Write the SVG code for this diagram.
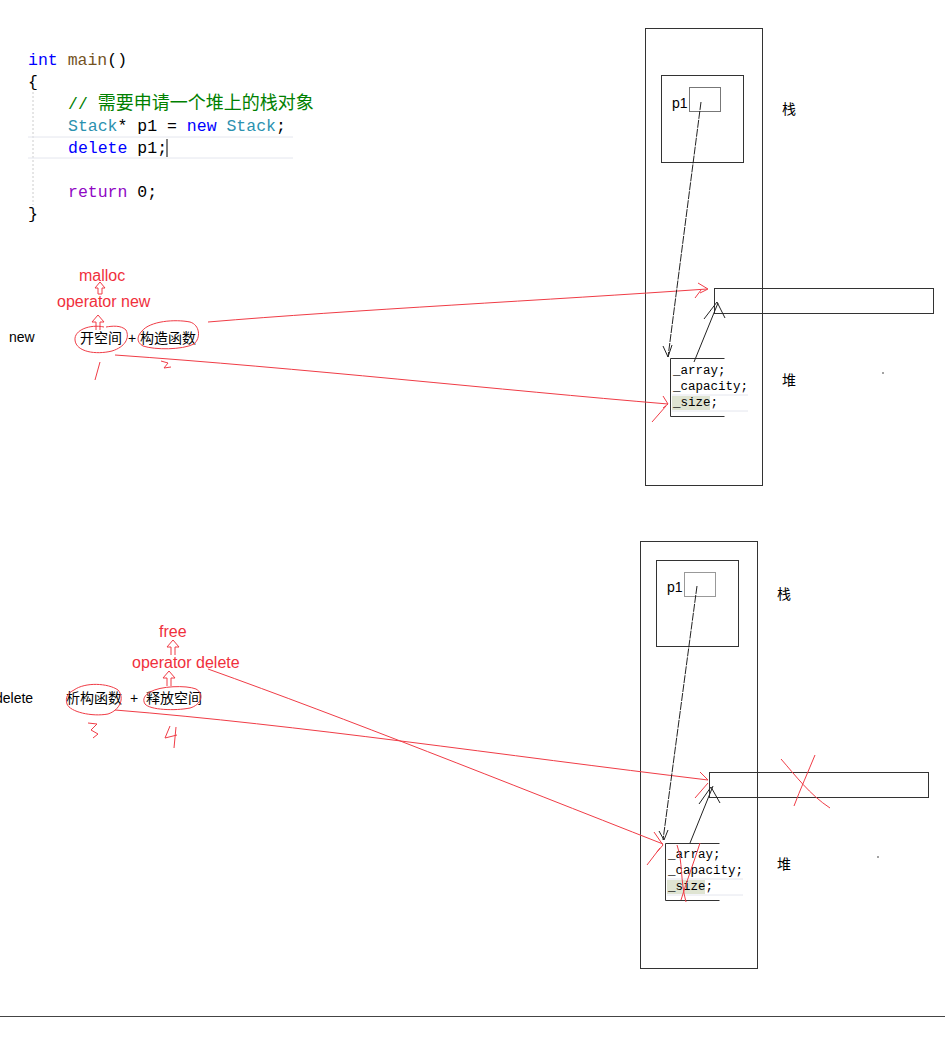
<svg xmlns="http://www.w3.org/2000/svg" width="945" height="1038" viewBox="0 0 945 1038">
<style>
.code{font-family:"Liberation Mono","DejaVu Sans Mono",monospace;font-size:16.5px}
.mem{font-family:"Liberation Mono","DejaVu Sans Mono",monospace;font-size:12.5px;fill:#000}
.lbl{font-family:"Liberation Sans","Noto Sans CJK SC",sans-serif;font-size:14px;fill:#000}
.red{font-family:"Liberation Sans","Noto Sans CJK SC",sans-serif;font-size:16px;fill:#f0303c}
.box{fill:none;stroke:#333;stroke-width:1}
.rl{fill:none;stroke:#f03c46;stroke-width:1}
.bl{fill:none;stroke:#222;stroke-width:1}
.ha{fill:none;stroke:#f03c46;stroke-width:1}
</style>
<rect width="945" height="1038" fill="#fff"/>

<g id="code">
<line x1="33" y1="92" x2="33" y2="205" stroke="#ccc" stroke-dasharray="2,2"/>
<line x1="28" y1="137" x2="293" y2="137" stroke="#e4e6ee"/>
<line x1="28" y1="158" x2="293" y2="158" stroke="#e4e6ee"/>
<text class="code" x="28" y="65"><tspan fill="#0000ff">int</tspan> <tspan fill="#74531f">main</tspan><tspan fill="#000">()</tspan></text>
<text class="code" x="28" y="87" fill="#000">{</text>
<text class="code" x="68" y="109" fill="#008000">// <tspan font-family="'Noto Sans CJK SC',sans-serif" font-size="18">需要申请一个堆上的栈对象</tspan></text>
<text class="code" x="68" y="131"><tspan fill="#2b91af">Stack</tspan><tspan fill="#000">* p1 = </tspan><tspan fill="#0000ff">new</tspan> <tspan fill="#2b91af">Stack</tspan><tspan fill="#000">;</tspan></text>
<text class="code" x="68" y="153"><tspan fill="#0000ff">delete</tspan><tspan fill="#000"> p1;</tspan></text>
<line x1="167" y1="139" x2="167" y2="157" stroke="#000"/>
<text class="code" x="68" y="197"><tspan fill="#8f08c4">return</tspan><tspan fill="#000"> 0;</tspan></text>
<text class="code" x="28" y="219" fill="#000">}</text>
</g>

<g id="top-memory">
<rect class="box" x="645.5" y="28.5" width="117" height="457"/>
<rect class="box" x="661.5" y="75.5" width="82" height="87"/>
<text class="lbl" x="672" y="108">p1</text>
<rect x="689.5" y="87.5" width="31" height="24" fill="none" stroke="#777"/>
<text class="lbl" x="782" y="114">栈</text>
<rect class="box" x="714.5" y="288.5" width="219" height="25"/>
<path d="M670.5 416.5 V358.5 H724.5 M670.5 416.5 H724.5" class="box" stroke="#555"/>
<line x1="672" y1="395" x2="748" y2="395" stroke="#e4e6ee"/>
<line x1="672" y1="411" x2="748" y2="411" stroke="#e4e6ee"/>
<rect x="672" y="396" width="38" height="14" fill="#dfe4d2"/>
<text class="mem" x="673" y="374">_array;</text>
<text class="mem" x="673" y="390">_capacity;</text>
<text class="mem" x="673" y="406">_size;</text>
<text class="lbl" x="782" y="385">堆</text>
<circle cx="883" cy="373" r="0.7" fill="#000"/>
</g>

<g id="bottom-memory">
<rect class="box" x="640.5" y="541.5" width="117" height="427"/>
<rect class="box" x="656.5" y="560.5" width="82" height="86"/>
<text class="lbl" x="667" y="592">p1</text>
<rect x="684.5" y="572.5" width="31" height="24" fill="none" stroke="#999"/>
<text class="lbl" x="777" y="599">栈</text>
<rect class="box" x="709.5" y="772.5" width="219" height="25" stroke="#666"/>
<path d="M665.5 900.5 V843.5 H719.5 M665.5 900.5 H719.5" class="box" stroke="#555"/>
<line x1="667" y1="879" x2="743" y2="879" stroke="#e4e6ee"/>
<line x1="667" y1="895" x2="743" y2="895" stroke="#e4e6ee"/>
<rect x="667" y="880" width="38" height="14" fill="#dfe4d2"/>
<text class="mem" x="668" y="858">_array;</text>
<text class="mem" x="668" y="874">_capacity;</text>
<text class="mem" x="668" y="890">_size;</text>
<text class="lbl" x="777" y="869">堆</text>
<circle cx="878" cy="857" r="0.7" fill="#000"/>
</g>

<g id="left-top">
<text class="lbl" x="9" y="342">new</text>
<text class="lbl" x="80" y="343">开空间</text>
<text class="lbl" x="128" y="343">+</text>
<text class="lbl" x="140" y="343">构造函数</text>
<text class="red" x="79" y="281">malloc</text>
<text class="red" x="57" y="307">operator new</text>
<path class="ha" d="M98 294 V288 H95 L100 282 L105 288 H102 V294 Z"/>
<path class="ha" d="M96 330 V322 H92 L98 315 L104 322 H100 V330"/>
<path class="rl" d="M104 327 C90 324 74 330 75 340 C76 352 96 355 112 351 C125 347 130 338 126 330 C121 325 112 326 106 327"/>
<path class="rl" d="M142 331 C150 321 175 319 190 322 C200 325 201 338 194 344 C182 350 155 350 143 346 C136 342 137 336 142 331"/>
<path class="rl" d="M100 362 L95 380"/>
<path class="rl" d="M161 361 L168 363 L164 368 L171 367"/>
</g>

<g id="left-bottom">
<text class="lbl" x="-5" y="703">delete</text>
<text class="lbl" x="66" y="703">析构函数</text>
<text class="lbl" x="130" y="703">+</text>
<text class="lbl" x="146" y="703">释放空间</text>
<text class="red" x="159" y="637">free</text>
<text class="red" x="132" y="668">operator delete</text>
<path class="ha" d="M171 655 V647 H167 L173 640 L179 647 H175 V655"/>
<path class="ha" d="M167 686 V678 H163 L169 671 L175 678 H171 V686"/>
<path class="rl" d="M74 690 C85 682 108 683 118 690 C125 698 120 710 108 714 C92 717 70 712 67 704 C65 697 68 693 74 690"/>
<path class="rl" d="M150 692 C160 686 186 685 196 689 C205 694 201 705 190 708 C175 711 150 710 145 704 C142 699 145 695 150 692"/>
<path class="rl" d="M88 723 L97 724 L91 730 L98 734 L93 738"/>
<path class="rl" d="M170 726 L165 738 L177 735 M176 727 L174 748"/>
</g>

<g id="connectors">
<path class="rl" d="M208 322 C350 310 550 300 707 289"/>
<path class="rl" d="M698 283 L708 289 L700 293 M695 298 L701 290"/>
<path class="rl" d="M115 355 C300 368 500 390 668 404"/>
<path class="rl" d="M663 396 L668 404 L663 408 M652 422 L666 406"/>
<path class="bl" d="M701 102 L668 357" stroke-dasharray="8,1"/>
<path class="bl" d="M663 346 L668 357 L672 345"/>
<path class="bl" d="M694 362 L718 303"/>
<path class="bl" d="M704 319 L717 302 L725 318"/>

<path class="rl" d="M208 669 C350 720 500 780 663 844"/>
<path class="rl" d="M654 832 L663 845 L657 852 M647 865 L660 848"/>
<path class="rl" d="M115 710 C300 725 500 755 708 780"/>
<path class="rl" d="M695 798 L708 783 M700 772 L708 780"/>
<path class="bl" d="M697 586 L663 840" stroke-dasharray="8,1"/>
<path class="bl" d="M659 831 L664 840 L668 830"/>
<path class="bl" d="M690 843 L713 786"/>
<path class="bl" d="M699 804 L711 787 L720 803"/>
</g>

<g id="cross-marks">
<path class="rl" d="M781 759 C795 775 810 795 830 808"/>
<path class="rl" d="M815 755 C808 772 800 790 794 806"/>
<path class="rl" d="M677 845 C683 862 680 880 686 902"/>
<path class="rl" d="M700 843 C694 862 687 880 681 900"/>
</g>

<line x1="0" y1="1016.5" x2="945" y2="1016.5" stroke="#444" stroke-width="1"/>
</svg>
